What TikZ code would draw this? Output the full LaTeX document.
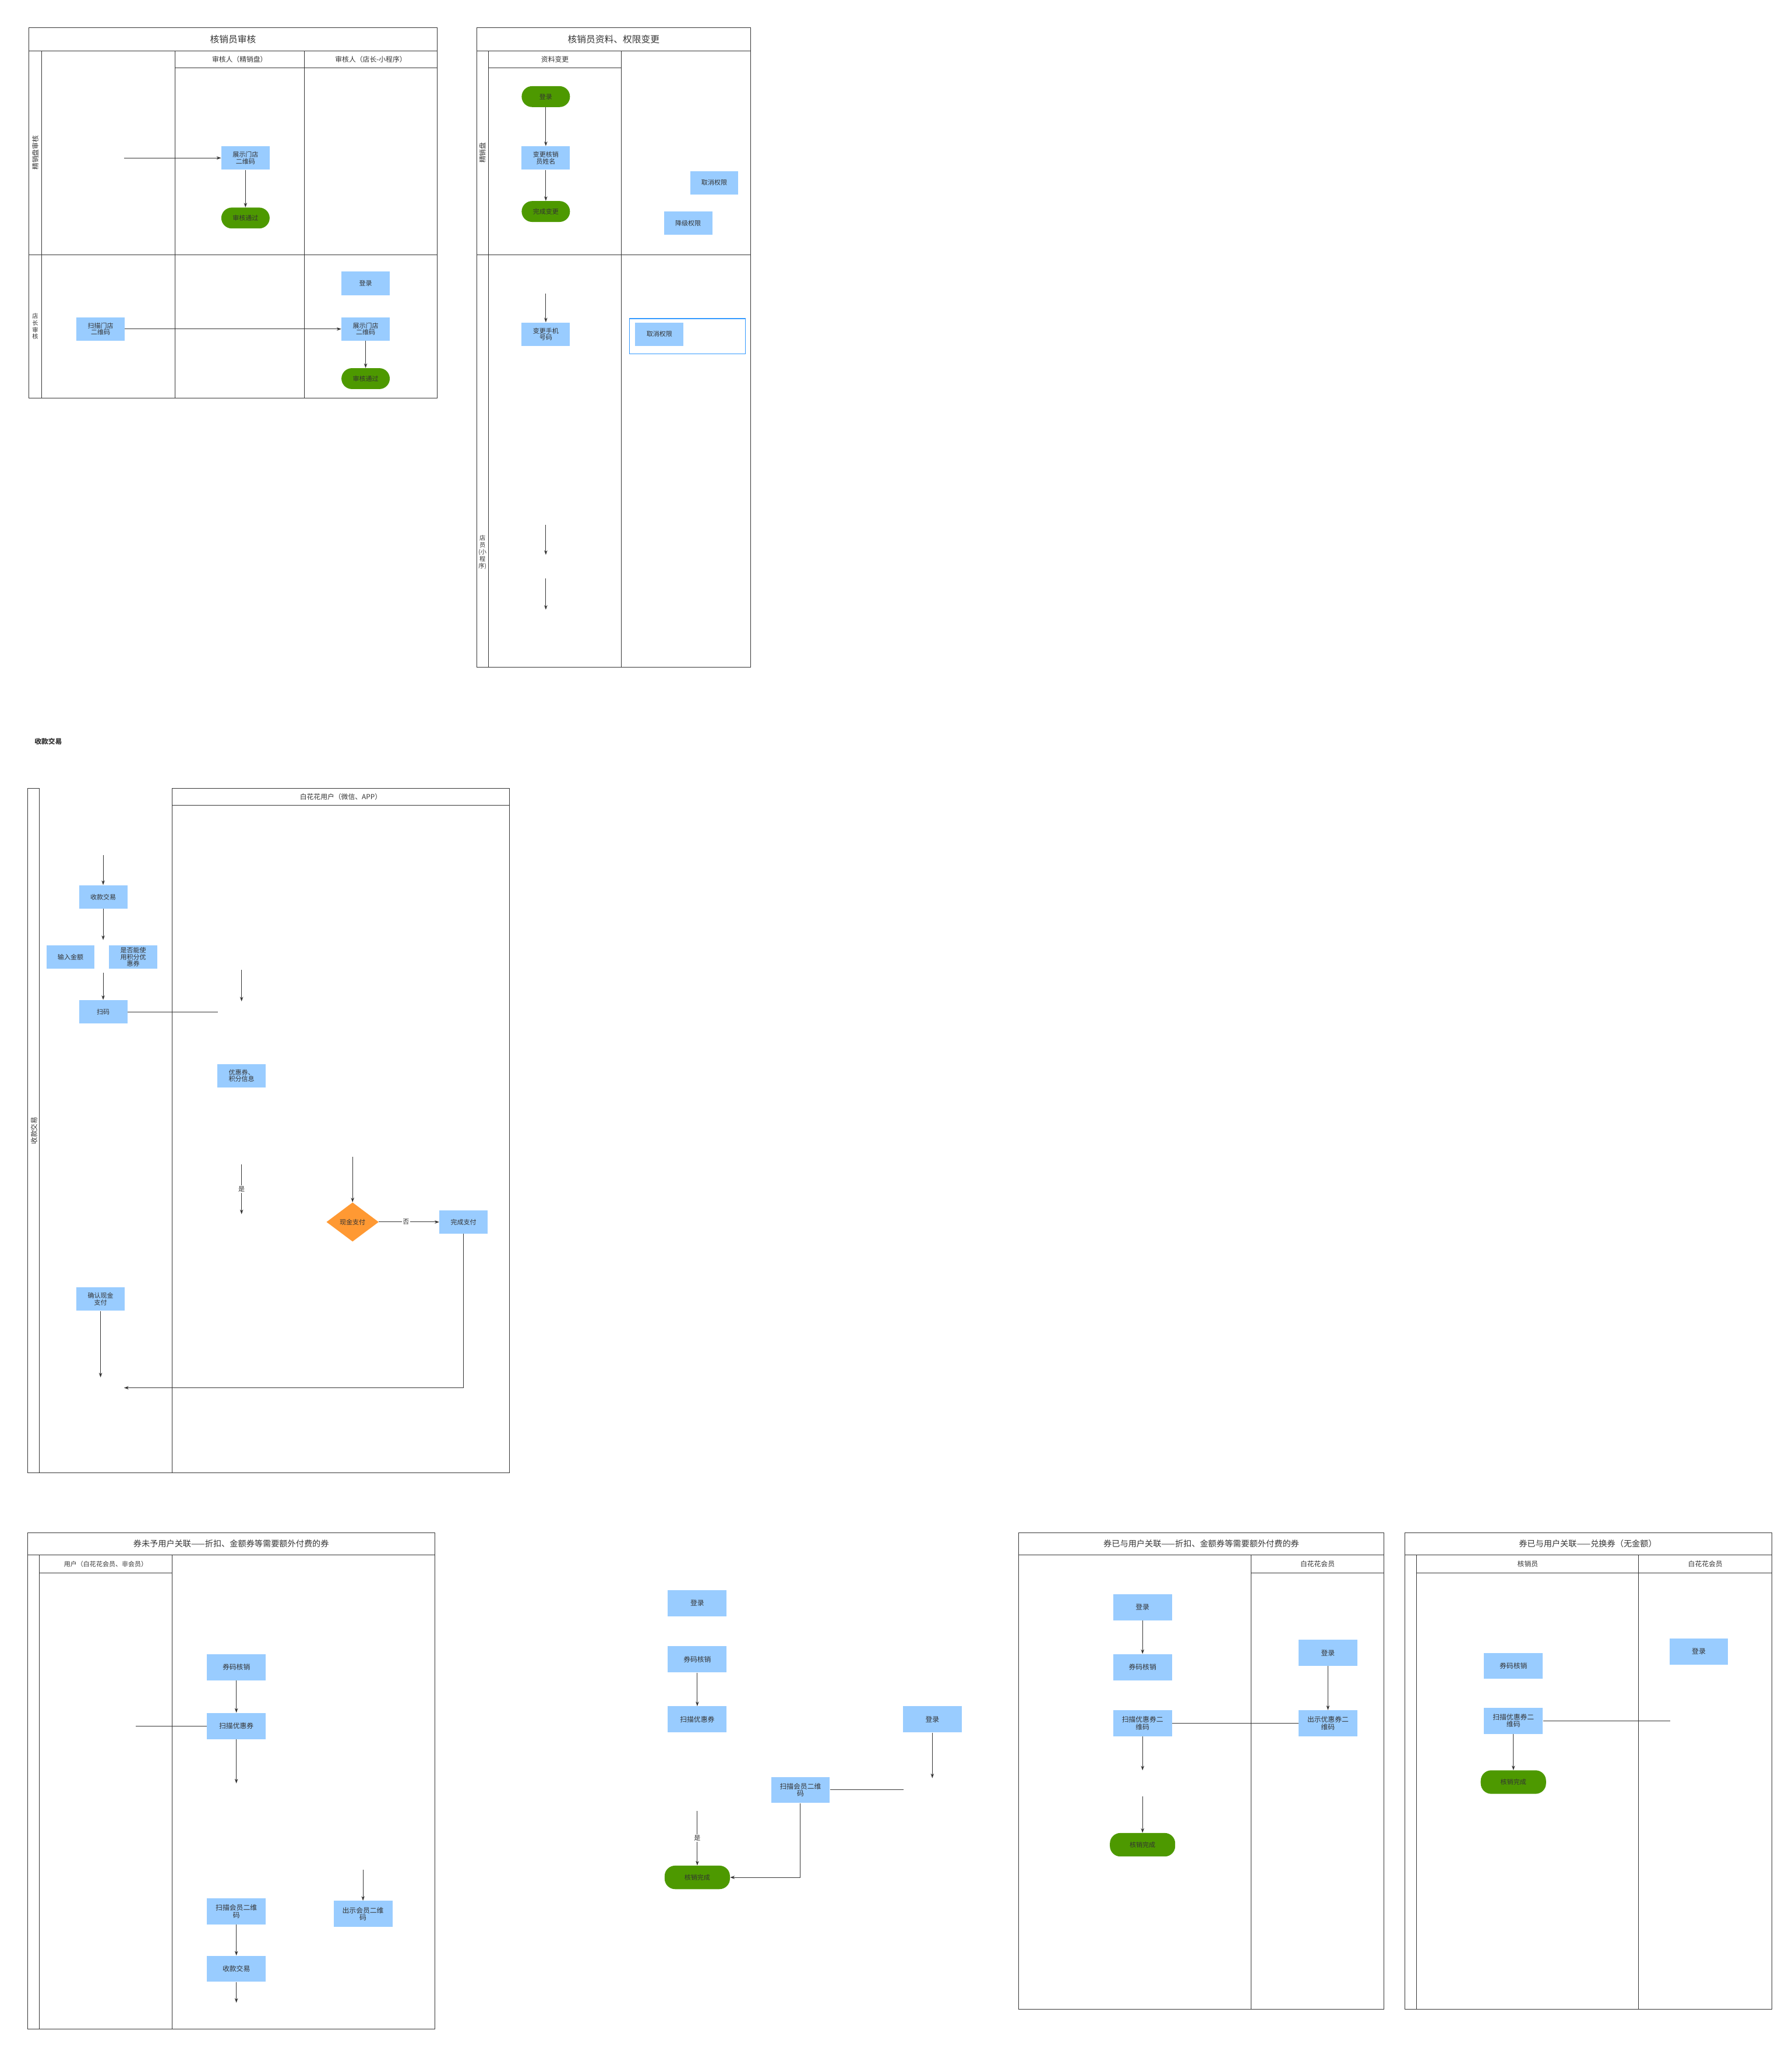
\documentclass[tikz,border=0pt]{standalone}
\usepackage{fontspec}
\setmainfont{Noto Sans CJK SC}
\usetikzlibrary{arrows.meta,shapes.geometric}
\definecolor{bl}{HTML}{99CCFF}
\definecolor{gr}{HTML}{4D9900}
\definecolor{og}{HTML}{FF9933}
\definecolor{ln}{HTML}{333333}
\definecolor{ol}{HTML}{3399FF}
\begin{document}
\begin{tikzpicture}[x=0.05cm,y=-0.05cm,
 frame/.style={draw=ln,line width=0.6pt},
 box/.style={fill=bl,minimum width=1.85cm,minimum height=0.9cm,align=center,inner sep=1pt,font=\fontsize{7}{7.5}\selectfont,text=ln},
 bbox/.style={fill=bl,minimum width=2.25cm,minimum height=1cm,align=center,inner sep=1pt,font=\fontsize{7.5}{8}\selectfont,text=ln},
 term/.style={fill=gr,rounded corners=0.4cm,minimum width=1.85cm,minimum height=0.8cm,align=center,font=\fontsize{7}{7.5}\selectfont,text=ln},
 bterm/.style={term,minimum width=2.5cm,minimum height=0.9cm},
 arr/.style={draw=ln,line width=0.6pt,-{Stealth[length=5pt,width=3.5pt]}},
 con/.style={draw=ln,line width=0.6pt},
 ttl/.style={font=\fontsize{10}{11}\selectfont,text=ln},
 hdr/.style={font=\fontsize{7.5}{8}\selectfont,text=ln},
 lbl/.style={font=\fontsize{7}{7.5}\selectfont,text=ln,fill=white,inner sep=1pt}]
\useasboundingbox (0,0) rectangle (1372,1568.7);
% ---------- section 1
\draw[frame] (22,21) rectangle (335,305);
\draw[frame] (22,39) -- (335,39) (32,39) -- (32,305) (22,195) -- (335,195)
 (134,39) -- (134,305) (233,39) -- (233,305) (134,52) -- (335,52);
\node[ttl] at (178.5,30) {核销员审核};
\node[hdr] at (183.5,45.5) {审核人（精销盘）};
\node[hdr] at (284,45.5) {审核人（店长-小程序）};
\node[hdr,rotate=90] at (27,117) {精销盘审核};
\node[hdr,align=center,font=\fontsize{6.5}{7.5}\selectfont] at (27,250) {店\\长\\审\\核};
\node[box] (s1a) at (188,121) {展示门店\\二维码};
\node[term] (s1b) at (188,167) {审核通过};
\node[box] (s1c) at (280,217) {登录};
\node[box] (s1d) at (280,252) {展示门店\\二维码};
\node[term] (s1e) at (280,290) {审核通过};
\node[box] (s1f) at (77,252) {扫描门店\\二维码};
\coordinate (c1) at (95,121);
\draw[arr] (c1) -- (s1a);
\draw[arr] (s1a) -- (s1b);
\draw[arr] (s1f) -- (s1d);
\draw[arr] (s1d) -- (s1e);
% ---------- section 2
\draw[frame] (365,21) rectangle (575,511);
\draw[frame] (365,39) -- (575,39) (374,39) -- (374,511) (476,39) -- (476,511)
 (374,52) -- (476,52) (365,195) -- (575,195);
\node[ttl] at (470,30) {核销员资料、权限变更};
\node[hdr] at (425,45.5) {资料变更};
\node[hdr,rotate=90] at (369.5,117) {精销盘};
\node[hdr,align=center,font=\fontsize{6.5}{7.5}\selectfont] at (369.5,423) {店\\员\\(小\\程\\序)};
\node[term] (s2a) at (418,74) {登录};
\node[box] (s2b) at (418,121) {变更核销\\员姓名};
\node[term] (s2c) at (418,162) {完成变更};
\node[box] (s2d) at (547,140) {取消权限};
\node[box] (s2e) at (527,171) {降级权限};
\node[box] (s2f) at (418,256) {变更手机\\号码};
\node[draw=ol,line width=0.8pt,minimum width=4.45cm,minimum height=1.35cm] (s2g) at (526.5,257.5) {};
\node[box] (s2h) at (505,256) {取消权限};
\draw[arr] (s2a) -- (s2b);
\draw[arr] (s2b) -- (s2c);
\coordinate (c2a) at (418,225); \draw[arr] (c2a) -- (s2f);
\coordinate (c2b) at (418,402); \coordinate (c2c) at (418,425); \draw[arr] (c2b) -- (c2c);
\coordinate (c2d) at (418,443); \coordinate (c2e) at (418,467); \draw[arr] (c2d) -- (c2e);
% ---------- section 3
\node[font=\bfseries\fontsize{7.5}{8}\selectfont,text=ln] at (37,568) {收款交易};
\draw[frame] (21,604) rectangle (30,1128);
\draw[frame] (132,604) rectangle (390,1128);
\draw[frame] (30,1128) -- (132,1128) (132,617) -- (390,617);
\node[hdr] at (261,610.5) {白花花用户（微信、APP）};
\node[hdr,rotate=90] at (26,866) {收款交易};
\node[box] (s3a) at (79,687) {收款交易};
\node[box] (s3b) at (54,733) {输入金额};
\node[box] (s3c) at (102,733) {是否能使\\用积分优\\惠券};
\node[box] (s3d) at (79,775) {扫码};
\node[box] (s3e) at (185,824) {优惠券、\\积分信息};
\node[diamond,fill=og,minimum width=2cm,minimum height=1.5cm,inner sep=0pt,font=\fontsize{7}{7.5}\selectfont,text=ln] (s3f) at (270,936) {现金支付};
\node[box] (s3g) at (355,936) {完成支付};
\node[box] (s3h) at (77,995) {确认现金\\支付};
\coordinate (c3a) at (79,655); \draw[arr] (c3a) -- (s3a);
\coordinate (c3b) at (79,720); \draw[arr] (s3a) -- (c3b);
\coordinate (c3c) at (79,745); \draw[arr] (c3c) -- (s3d);
\coordinate (c3d) at (167,775); \draw[con] (s3d) -- (c3d);
\coordinate (c3e) at (185,743); \coordinate (c3f) at (185,767); \draw[arr] (c3e) -- (c3f);
\coordinate (c3g) at (185,892); \coordinate (c3h) at (185,930); \draw[arr] (c3g) -- node[lbl]{是} (c3h);
\coordinate (c3i) at (270,886); \draw[arr] (c3i) -- (s3f);
\draw[arr] (s3f) -- node[lbl,pos=0.45]{否} (s3g);
\coordinate (c3j) at (95,1063); \draw[arr] (s3g) |- (c3j);
\coordinate (c3k) at (77,1055); \draw[arr] (s3h) -- (c3k);
% ---------- section 4
\draw[frame] (21,1174) rectangle (333,1554);
\draw[frame] (21,1191) -- (333,1191) (30,1191) -- (30,1554) (132,1191) -- (132,1554) (30,1205) -- (132,1205);
\node[ttl,font=\fontsize{9}{10}\selectfont] at (177,1182.5) {券未予用户关联——折扣、金额券等需要额外付费的券};
\node[hdr,font=\fontsize{7}{7.5}\selectfont] at (81,1198) {用户（白花花会员、非会员）};
\node[bbox] (s4a) at (181,1277) {券码核销};
\node[bbox] (s4b) at (181,1322) {扫描优惠券};
\node[bbox] (s4c) at (181,1464) {扫描会员二维\\码};
\node[bbox] (s4d) at (181,1508) {收款交易};
\node[bbox] (s4e) at (278,1466) {出示会员二维\\码};
\draw[arr] (s4a) -- (s4b);
\coordinate (c4a) at (104,1322); \draw[con] (c4a) -- (s4b);
\coordinate (c4b) at (181,1366); \draw[arr] (s4b) -- (c4b);
\draw[arr] (s4c) -- (s4d);
\coordinate (c4c) at (181,1534); \draw[arr] (s4d) -- (c4c);
\coordinate (c4d) at (278,1432); \draw[arr] (c4d) -- (s4e);
% ---------- middle free
\node[bbox] (m1) at (534,1228) {登录};
\node[bbox] (m2) at (534,1271) {券码核销};
\node[bbox] (m3) at (534,1317) {扫描优惠券};
\node[bbox] (m4) at (714,1317) {登录};
\node[bbox] (m5) at (613,1371) {扫描会员二维\\码};
\node[bterm] (m6) at (534,1438) {核销完成};
\draw[arr] (m2) -- (m3);
\coordinate (cm1) at (714,1362); \draw[arr] (m4) -- (cm1);
\coordinate (cm2) at (692,1371); \draw[con] (m5) -- (cm2);
\draw[arr] (m5) |- (m6);
\coordinate (cm3) at (534,1387); \draw[arr] (cm3) -- node[lbl]{是} (m6);
% ---------- section 5
\draw[frame] (780,1174) rectangle (1060,1539);
\draw[frame] (780,1191) -- (1060,1191) (958,1191) -- (958,1539) (958,1205) -- (1060,1205);
\node[ttl,font=\fontsize{9}{10}\selectfont] at (920,1182.5) {券已与用户关联——折扣、金额券等需要额外付费的券};
\node[hdr] at (1009,1198) {白花花会员};
\node[bbox] (f1) at (875,1231) {登录};
\node[bbox] (f2) at (875,1277) {券码核销};
\node[bbox] (f3) at (875,1320) {扫描优惠券二\\维码};
\node[bterm] (f4) at (875,1413) {核销完成};
\node[bbox] (f5) at (1017,1266) {登录};
\node[bbox] (f6) at (1017,1320) {出示优惠券二\\维码};
\draw[arr] (f1) -- (f2);
\coordinate (cf1) at (875,1356); \draw[arr] (f3) -- (cf1);
\coordinate (cf2) at (875,1376); \draw[arr] (cf2) -- (f4);
\draw[arr] (f5) -- (f6);
\draw[con] (f3) -- (f6);
% ---------- section 6
\draw[frame] (1076,1174) rectangle (1357,1539);
\draw[frame] (1076,1191) -- (1357,1191) (1085,1191) -- (1085,1539) (1255,1191) -- (1255,1539) (1085,1205) -- (1357,1205);
\node[ttl,font=\fontsize{9}{10}\selectfont] at (1216,1182.5) {券已与用户关联——兑换券（无金额）};
\node[hdr] at (1170,1198) {核销员};
\node[hdr] at (1306,1198) {白花花会员};
\node[bbox] (g1) at (1301,1265) {登录};
\node[bbox] (g2) at (1159,1276) {券码核销};
\node[bbox] (g3) at (1159,1318) {扫描优惠券二\\维码};
\node[bterm] (g4) at (1159,1365) {核销完成};
\coordinate (cg1) at (1279,1318); \draw[con] (g3) -- (cg1);
\draw[arr] (g3) -- (g4);
\end{tikzpicture}
\end{document}
